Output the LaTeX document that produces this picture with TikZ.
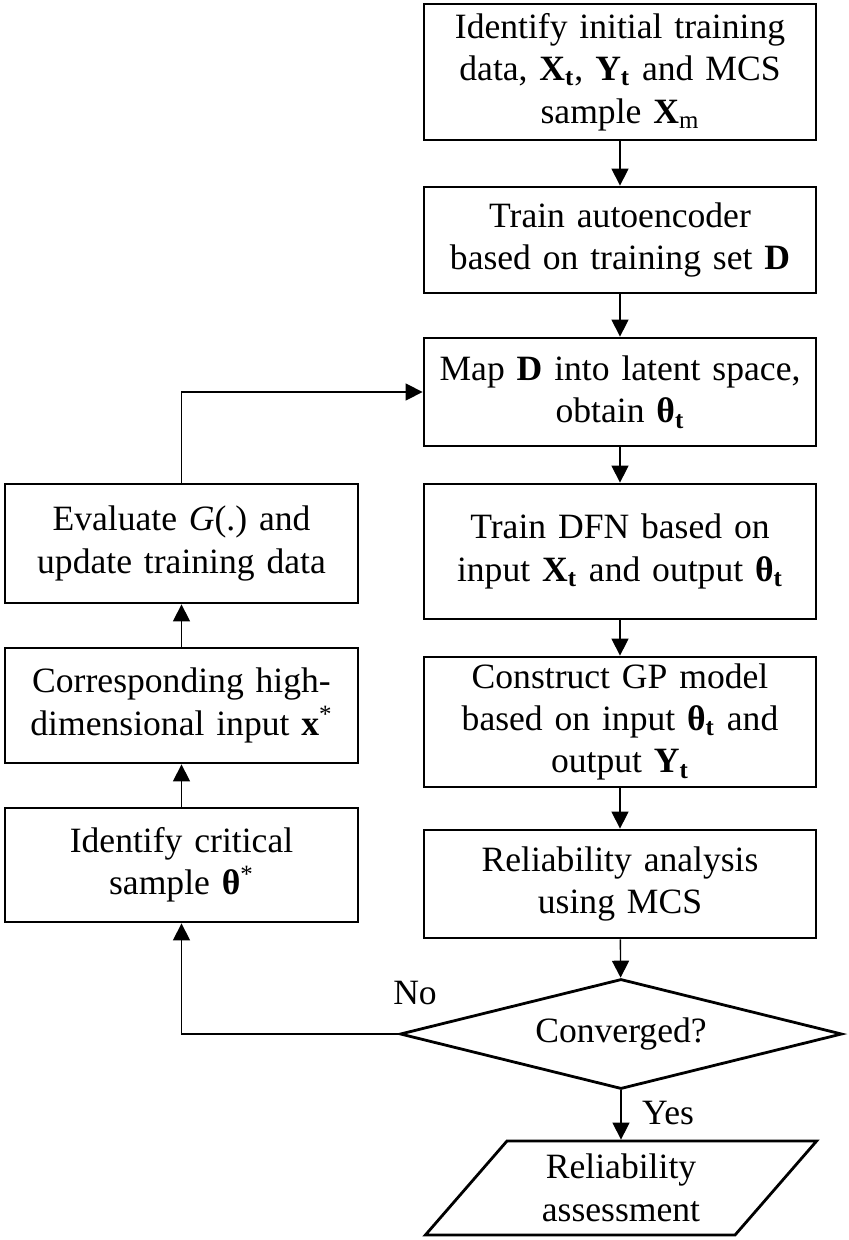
\documentclass[tikz,border=0pt]{standalone}
\usepackage{fontspec}
\setmainfont{Liberation Serif}
\usetikzlibrary{shapes.geometric, % For the diamond and the parallelogram
                arrows.meta,
               }
\frenchspacing
\newcommand{\flowfont}{\fontsize{17.8}{21.2}\selectfont}
\newcommand{\bsub}[2]{\textbf{#1}\textsubscript{\textbf{#2}}}
\tikzstyle{process} = [rectangle, draw=black, line width=1.4pt, minimum width=196pt, text width=190pt, inner sep=0pt, align=center, font=\flowfont]
\tikzstyle{sideproc} = [process, minimum width=176.5pt, text width=170pt]
\tikzstyle{decision} = [diamond, aspect=4, draw=black, line width=1.4pt, minimum width=221pt, minimum height=55pt, inner sep=0pt, align=center, font=\flowfont]
\tikzstyle{io} = [trapezium, trapezium left angle=50, trapezium right angle=130, trapezium stretches=true, draw=black, line width=1.4pt, minimum width=196pt, minimum height=47pt, inner sep=0pt, align=center, font=\flowfont]
\tikzstyle{flow} = [-{Triangle[length=8.5pt, width=8.5pt]}, line width=0.7pt]
\tikzstyle{answer} = [font=\flowfont, inner sep=0pt]

\begin{document}
\begin{tikzpicture}[x=0.5pt, y=-0.5pt]
  \useasboundingbox (0,0) rectangle (848,1240);

  % main column
  \node (init) [process, minimum height=68pt] at (620, 72) {Identify initial training\\ data, \bsub{X}{t}, \bsub{Y}{t} and MCS\\ sample \textbf{X}\textsubscript{m}};
  \node (auto) [process, minimum height=53pt] at (620, 240) {Train autoencoder\\ based on training set \textbf{D}};
  \node (map) [process, minimum height=54pt] at (620, 392) {Map \textbf{D} into latent space,\\ obtain \bsub{θ}{t}};
  \node (dfn) [process, minimum height=67.5pt] at (620, 551.5) {Train DFN based on\\ input \bsub{X}{t} and output \bsub{θ}{t}};
  \node (gp) [process, minimum height=65pt] at (620, 722) {Construct GP model\\ based on input \bsub{θ}{t} and\\ output \bsub{Y}{t}};
  \node (mcs) [process, minimum height=54pt] at (620, 884) {Reliability analysis\\ using MCS};
  \node (conv) [decision] at (621, 1034) {Converged?};
  \node (assess) [io] at (621, 1188) {Reliability\\ assessment};

  % update loop
  \node (crit) [sideproc, minimum height=57pt] at (181.5, 865) {Identify critical\\ sample \textbf{θ}\textsuperscript{*}};
  \node (high) [sideproc, minimum height=57.5pt] at (181.5, 705.5) {Corresponding high-\\ dimensional input \textbf{x}\textsuperscript{*}};
  \node (eval) [sideproc, minimum height=59.5pt] at (181.5, 543.5) {Evaluate \textit{G}(.) and\\ update training data};

  \draw [flow] (init) -- (auto);
  \draw [flow] (auto) -- (map);
  \draw [flow] (map) -- (dfn);
  \draw [flow] (dfn) -- (gp);
  \draw [flow] (gp) -- (mcs);
  \draw [flow] (mcs) -- (conv);
  \draw [flow] (conv) -- (assess);
  \draw [flow] (conv.west) -| (crit.south);
  \draw [flow] (crit) -- (high);
  \draw [flow] (high) -- (eval);
  \draw [flow] (eval.north) |- (map.west);

  \node (no) [answer] at (415, 993) {No};
  \node (yes) [answer] at (668, 1113) {Yes};
\end{tikzpicture}
\end{document}
